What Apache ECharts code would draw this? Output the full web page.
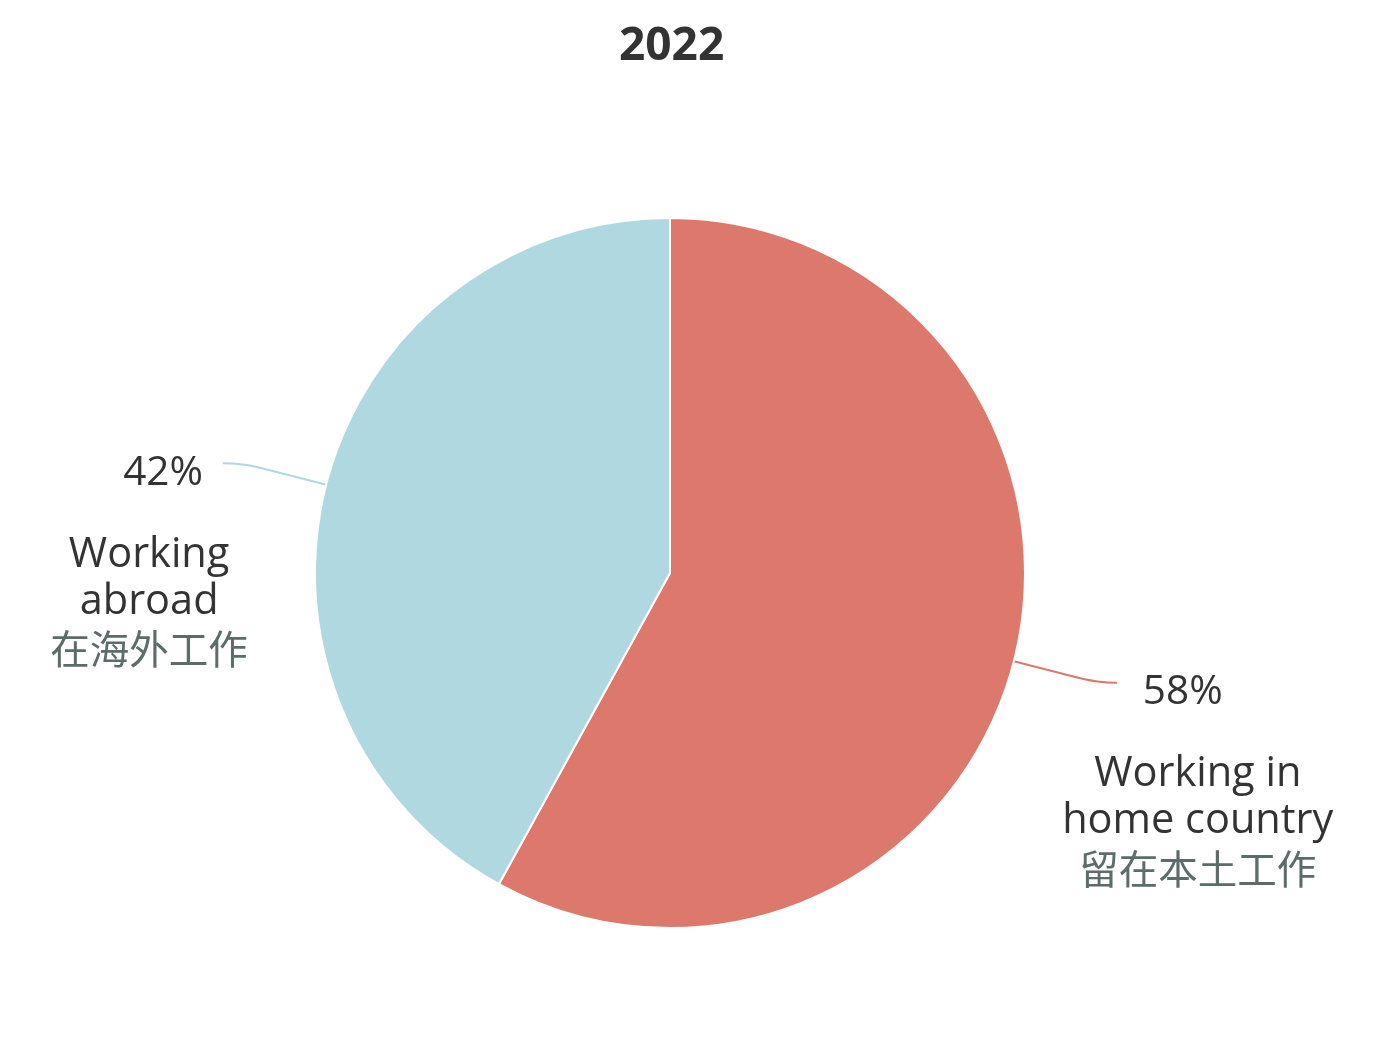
<!DOCTYPE html>
<html><head><meta charset="utf-8">
<script src="https://cdn.jsdelivr.net/npm/echarts@6/dist/echarts.min.js"></script>
<style>html,body{margin:0;padding:0;background:#fff}#c{width:1400px;height:1037px}</style>
</head><body><div id="c"></div>
<script>
const title = '2022';
const categoriesEn = ['Working in\nhome country', 'Working\nabroad'];
const categoriesZh = ['留在本土工作', '在海外工作'];
const values = [58, 42];
const colors = ['#DC786C', '#B0D8E0'];

const FONT = '"Open Sans", "Noto Sans", sans-serif';
const CJK = '"Noto Sans CJK SC", "Noto Sans", sans-serif';

const perItem = [
  { dist: -55, pctPad: [0, 30, 0, 0] },
  { dist: -25, pctPad: [0, 0, 0, 28] }
];

const data = values.map((v, i) => ({
  value: v,
  name: categoriesEn[i],
  itemStyle: { color: colors[i] },
  label: {
    distanceToLabelLine: perItem[i].dist,
    rich: { pct: { padding: perItem[i].pctPad } }
  }
}));

const chart = echarts.init(document.getElementById('c'));
chart.setOption({
  backgroundColor: '#fff',
  title: {
    text: title, left: 619, top: 24, padding: 0,
    textStyle: { fontFamily: FONT, fontSize: 46, fontWeight: 'bold', color: '#333' }
  },
  series: [{
    type: 'pie',
    center: [670, 573],
    radius: 355,
    startAngle: 90,
    clockwise: true,
    avoidLabelOverlap: false,
    itemStyle: { borderColor: '#fff', borderWidth: 2 },
    labelLine: { show: true, length: 86, length2: 20, smooth: 0.5, lineStyle: { width: 2 } },
    label: {
      show: true,
      position: 'outside',
      padding: [162, 0, 0, 0],
      formatter: function (p) {
        const en = categoriesEn[p.dataIndex].split('\n').map(s => '{en|' + s + '}').join('\n');
        return '{pct|' + p.value + '%}\n' + en + '\n{zh|' + categoriesZh[p.dataIndex] + '}';
      },
      rich: {
        pct: { fontFamily: FONT, fontSize: 40.5, lineHeight: 116, color: '#333', align: 'center' },
        en: { fontFamily: FONT, fontSize: 41.5, lineHeight: 47, color: '#333', align: 'center' },
        zh: { fontFamily: CJK, fontSize: 39.5, lineHeight: 48, color: '#5c6d69', align: 'center' }
      }
    },
    emphasis: { disabled: true },
    data: data
  }]
});
</script></body></html>
